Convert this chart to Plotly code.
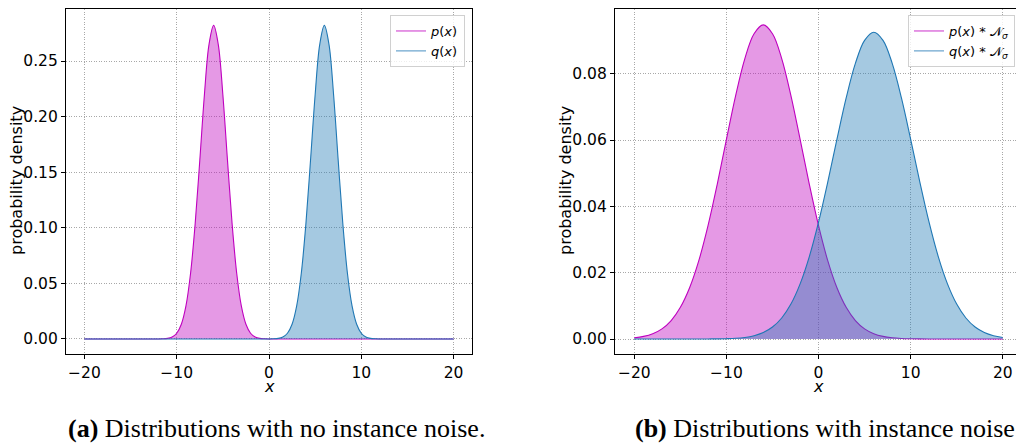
import plotly.graph_objects as go

# ---------------- data ----------------
X_NARROW = [i / 2 for i in range(-40, 41)]          # -20 .. 20 step 0.5
X_WIDE = list(range(-20, 21))                       # -20 .. 20 step 1

P_NARROW = [0.0] * 16 + [0.00003, 0.00015, 0.00054, 0.00179, 0.00517, 0.0132, 0.0297,
                         0.0591, 0.1038, 0.1607, 0.2197, 0.2650, 0.2821, 0.2650, 0.2197,
                         0.1607, 0.1038, 0.0591, 0.0297, 0.0132, 0.00517, 0.00179,
                         0.00054, 0.00015, 0.00003] + [0.0] * 40
Q_NARROW = [0.0] * 40 + [0.00003, 0.00015, 0.00054, 0.00179, 0.00517, 0.0132, 0.0297,
                         0.0591, 0.1038, 0.1607, 0.2197, 0.2650, 0.2821, 0.2650, 0.2197,
                         0.1607, 0.1038, 0.0591, 0.0297, 0.0132, 0.00517, 0.00179,
                         0.00054, 0.00015, 0.00003] + [0.0] * 16

P_WIDE = [0.00037, 0.00079, 0.00160, 0.00307, 0.00557, 0.00955, 0.01545, 0.02363,
          0.03416, 0.04664, 0.06019, 0.07338, 0.08456, 0.09205, 0.0947, 0.09205,
          0.08456, 0.07338, 0.06019, 0.04664, 0.03416, 0.02363, 0.01545, 0.00955,
          0.00557, 0.00307, 0.00160, 0.00079, 0.00037, 0.00016, 0.00007, 0.00003,
          0.00001, 0.0, 0.0, 0.0, 0.0, 0.0, 0.0, 0.0, 0.0]
Q_WIDE = [0.0, 0.0, 0.0, 0.0, 0.0, 0.0, 0.0, 0.0, 0.00002, 0.00004, 0.0001, 0.00022,
          0.00048, 0.00100, 0.00195, 0.00361, 0.00634, 0.01054, 0.01663, 0.02486,
          0.03524, 0.04732, 0.06024, 0.07267, 0.08309, 0.09005, 0.0925, 0.09005,
          0.08309, 0.07267, 0.06024, 0.04732, 0.03524, 0.02486, 0.01663, 0.01054,
          0.00634, 0.00361, 0.00195, 0.00100, 0.00048]

X_TICKS = [-20, -10, 0, 10, 20]
Y_TICKS_A = [0.0, 0.05, 0.10, 0.15, 0.20, 0.25]
Y_TICKS_B = [0.0, 0.02, 0.04, 0.06, 0.08]

LABEL_P_A = "<i>p</i>(<i>x</i>)"
LABEL_Q_A = "<i>q</i>(<i>x</i>)"
LABEL_P_B = "<i>p</i>(<i>x</i>) * \U0001D4A9<sub><i>σ</i></sub>"
LABEL_Q_B = "<i>q</i>(<i>x</i>) * \U0001D4A9<sub><i>σ</i></sub>"
CAPTION_A = "<b>(a)</b> Distributions with no instance noise."
CAPTION_B = "<b>(b)</b> Distributions with instance noise."

# ---------------- styling ----------------
W, H = 1016, 444
MAG = "#bf00bf"
BLUE = "#1f77b4"
MAG_FILL = "rgba(191,0,191,0.4)"
BLUE_FILL = "rgba(31,119,180,0.4)"
MAG_LEG = "rgba(191,0,191,0.55)"
BLUE_LEG = "rgba(31,119,180,0.55)"
FONT = "DejaVu Sans"
SERIF = "Liberation Serif, Times New Roman, serif"


def px_x(p):
    return p / W


def px_y(p):
    return 1 - p / H


fig = go.Figure()


def add_curve(x, y, line_c, fill_c, xa, ya):
    fig.add_trace(go.Scatter(x=x, y=y, mode="lines", line=dict(color=line_c, width=1.1, shape="spline", smoothing=1.0),
                             fill="tozeroy", fillcolor=fill_c, showlegend=False, hoverinfo="skip",
                             xaxis=xa, yaxis=ya))


def add_legend_item(name, color, legend, xa, ya):
    fig.add_trace(go.Scatter(x=[None], y=[None], mode="lines", line=dict(color=color, width=1.5),
                             name=name, legend=legend, xaxis=xa, yaxis=ya))


add_curve(X_NARROW, P_NARROW, MAG, MAG_FILL, "x", "y")
add_curve(X_NARROW, Q_NARROW, BLUE, BLUE_FILL, "x", "y")
add_curve(X_WIDE, P_WIDE, MAG, MAG_FILL, "x2", "y2")
add_curve(X_WIDE, Q_WIDE, BLUE, BLUE_FILL, "x2", "y2")

add_legend_item(LABEL_P_A, MAG_LEG, "legend", "x", "y")
add_legend_item(LABEL_Q_A, BLUE_LEG, "legend", "x", "y")
add_legend_item(LABEL_P_B, MAG_LEG, "legend2", "x2", "y2")
add_legend_item(LABEL_Q_B, BLUE_LEG, "legend2", "x2", "y2")

axis_common = dict(showgrid=True, gridcolor="#a8a8a8", griddash="1px,1.5px", gridwidth=0.8,
                   zeroline=False, showline=True, linecolor="black", linewidth=1.2,
                   ticks="outside", ticklen=4, tickwidth=1, tickcolor="black",
                   tickfont=dict(family=FONT, size=15.5, color="black"))

LEFT_DOM = [px_x(66), px_x(472)]
RIGHT_DOM = [px_x(615), 1.0]
Y_DOM = [px_y(354), px_y(9)]

fig.update_layout(
    width=W, height=H,
    margin=dict(l=0, r=0, t=0, b=0),
    paper_bgcolor="white", plot_bgcolor="white",
    xaxis=dict(domain=LEFT_DOM, range=[-22, 22], tickvals=X_TICKS, anchor="y", mirror=True, **axis_common),
    yaxis=dict(domain=Y_DOM, range=[-0.0135, 0.2968], tickvals=Y_TICKS_A, tickformat=".2f",
               anchor="x", mirror=True, **axis_common),
    xaxis2=dict(domain=RIGHT_DOM, range=[-22.1, 21.44], tickvals=X_TICKS, anchor="y2", mirror=True, **axis_common),
    yaxis2=dict(domain=Y_DOM, range=[-0.00452, 0.0995], tickvals=Y_TICKS_B, tickformat=".2f",
                anchor="x2", mirror=False, **axis_common),
    legend=dict(x=px_x(465), y=px_y(15), xanchor="right", yanchor="top",
                bgcolor="rgba(255,255,255,0.8)", bordercolor="#d0d0d0", borderwidth=1,
                font=dict(family=FONT, size=13, color="black"), itemwidth=30, tracegroupgap=0),
    legend2=dict(x=px_x(1015), y=px_y(15), xanchor="right", yanchor="top",
                 bgcolor="rgba(255,255,255,0.8)", bordercolor="#d0d0d0", borderwidth=1,
                 font=dict(family=FONT, size=13, color="black"), itemwidth=30, tracegroupgap=0),
    showlegend=True,
)

ann_font = dict(family=FONT, size=16, color="black")
annotations = [
    dict(text="probability density", x=px_x(17), y=px_y(181), textangle=-90, font=ann_font),
    dict(text="probability density", x=px_x(566), y=px_y(181), textangle=-90, font=ann_font),
    dict(text="<i>x</i>", x=px_x(269), y=px_y(386), font=dict(family=FONT, size=16, color="black")),
    dict(text="<i>x</i>", x=px_x(818.5), y=px_y(386), font=dict(family=FONT, size=16, color="black")),
    dict(text=CAPTION_A, x=px_x(66), y=px_y(428), xanchor="left",
         font=dict(family=SERIF, size=26, color="black")),
    dict(text=CAPTION_B, x=px_x(633), y=px_y(428), xanchor="left",
         font=dict(family=SERIF, size=26, color="black")),
]
for a in annotations:
    a.setdefault("xanchor", "center")
    a.setdefault("yanchor", "middle")
    a.update(xref="paper", yref="paper", showarrow=False)
fig.update_layout(annotations=annotations)

fig.write_html("out.html")
